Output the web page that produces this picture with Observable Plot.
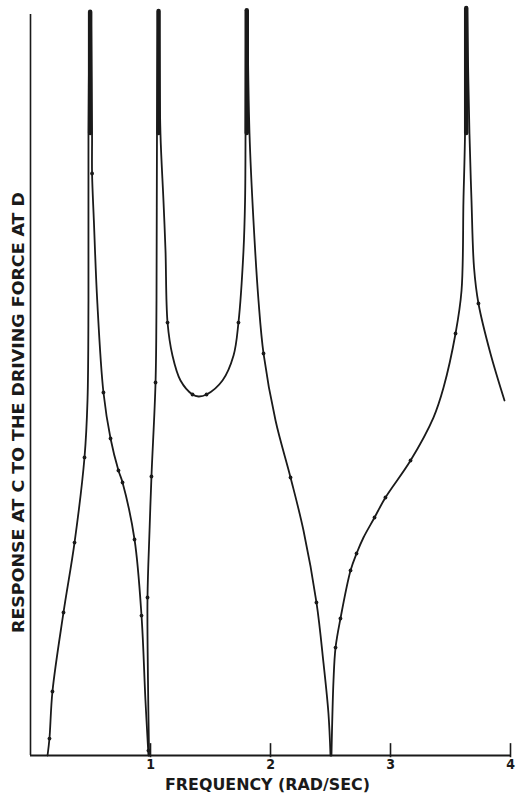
<!DOCTYPE html>
<html><head><meta charset="utf-8">
<script src="https://cdn.jsdelivr.net/npm/d3@7"></script>
<script src="https://cdn.jsdelivr.net/npm/@observablehq/plot@0.6"></script>
<style>body{margin:0;background:#fff}</style>
</head><body><div id="chart"></div>
<script>
// Tick values and labels
const xTicks = [1, 2, 3, 4];
const xLabel = "FREQUENCY (RAD/SEC)";
const yLabel = "RESPONSE AT C TO THE DRIVING FORCE AT D";

// Curve branches [frequency, response] (response in arbitrary units, 0..100 = axis height)
const branch1 = [[0.142,0],[0.158,2.29],[0.183,8.64],[0.275,19.3],[0.367,28.74],[0.45,40.22],[0.475,47.91],[0.483,61.4],[0.483,83.94],[0.492,100.3]];
const branch2 = [[0.504,100.3],[0.513,83.94],[0.513,78.54],[0.528,72.2],[0.556,61.4],[0.608,48.99],[0.667,42.78],[0.733,38.46],[0.767,36.84],[0.867,29.15],[0.925,18.89],[0.958,7.42],[0.983,0]];
const branch3 = [[0.988,0],[0.979,10.12],[0.975,21.32],[0.992,30.36],[1.008,37.65],[1.042,50.34],[1.05,61.4],[1.054,83.94],[1.063,100.4]];
const branch4 = [[1.071,100.4],[1.083,83.94],[1.108,74.9],[1.125,68.15],[1.142,58.43],[1.183,53.98],[1.25,50.61],[1.35,48.72],[1.4,48.45],[1.467,48.72],[1.6,50.61],[1.692,53.98],[1.733,58.43],[1.775,68.15],[1.788,74.9],[1.792,83.94],[1.796,100.5]];
const branch5 = [[1.808,100.5],[1.825,83.94],[1.858,72.2],[1.9,61.4],[1.942,54.25],[2.042,45.21],[2.167,37.52],[2.275,30.36],[2.383,20.65],[2.442,12.42],[2.483,5.67],[2.5,0]];
const branch6 = [[2.508,0],[2.525,10.12],[2.542,14.57],[2.583,18.49],[2.667,24.97],[2.717,27.26],[2.775,29.42],[2.867,32.12],[2.958,34.82],[3.167,39.81],[3.358,45.61],[3.442,49.66],[3.542,56.95],[3.592,62.75],[3.608,74.9],[3.621,83.94],[3.625,100.8]];
const branch7 = [[3.638,100.8],[3.658,83.94],[3.675,74.9],[3.696,65.86],[3.733,61.0],[3.833,54.25],[3.95,47.91]];

// Resonance peaks (frequency, top of the heavy spike)
const peaks = [[0.497,100.3],[1.067,100.4],[1.802,100.5],[3.631,100.8]];
const spikeBase = 83.94;

// Plotted computation points
const dots = [[0.158,2.29],[0.183,8.64],[0.275,19.3],[0.367,28.74],[0.45,40.22],
  [0.513,78.54],[0.608,48.99],[0.667,42.78],[0.733,38.46],[0.767,36.84],[0.867,29.15],[0.925,18.89],[0.983,0.67],
  [0.975,21.32],[1.008,37.65],[1.042,50.34],
  [1.142,58.43],[1.35,48.72],[1.467,48.72],[1.733,58.43],
  [1.942,54.25],[2.167,37.52],[2.383,20.65],
  [2.542,14.57],[2.583,18.49],[2.667,24.97],[2.717,27.26],[2.867,32.12],[2.958,34.82],[3.167,39.81],[3.542,56.95],
  [3.733,61.0]];

const ink = "#1a1a1a";
const branches = [branch1, branch2, branch3, branch4, branch5, branch6, branch7];
const lines = branches.flatMap((b, i) => b.map(([x, y]) => ({x, y, id: i})));
const font = "'Liberation Sans Narrow','DejaVu Sans Condensed','Liberation Sans',sans-serif";

const chart = Plot.plot({
  width: 521, height: 800,
  marginLeft: 30, marginRight: 11, marginTop: 14, marginBottom: 45,
  style: {fontFamily: font, fontWeight: "bold", fontSize: "14px", color: ink, background: "#fff"},
  x: {domain: [0, 4], ticks: xTicks, tickSize: 0, tickPadding: 4, tickFormat: d => String(d), label: null},
  y: {domain: [0, 100], axis: null},
  marks: [
    Plot.ruleX([0], {y1: 0, y2: 100, stroke: ink, strokeWidth: 1.6}),
    Plot.ruleY([0], {x1: 0, x2: 4, stroke: ink, strokeWidth: 2}),
    Plot.ruleX(xTicks, {y1: -0.3, y2: 1.6, stroke: ink, strokeWidth: 1.6}),
    Plot.line(lines, {x: "x", y: "y", z: "id", curve: "catmull-rom", stroke: ink, strokeWidth: 1.8}),
    Plot.ruleX(peaks, {x: d => d[0], y1: spikeBase, y2: d => d[1], stroke: ink, strokeWidth: 4.5, strokeLinecap: "round"}),
    Plot.dot(dots, {x: d => d[0], y: d => d[1], r: 1.9, fill: ink, stroke: "none"}),
    Plot.text([xLabel], {text: d => d, frameAnchor: "bottom", textAnchor: "middle", lineAnchor: "middle", dx: -3, dy: 29, fontSize: 16, fontWeight: "bold", fill: ink}),
    Plot.text([yLabel], {text: d => d, frameAnchor: "left", textAnchor: "middle", lineAnchor: "middle", rotate: -90, dx: -11.5, dy: 27.5, fontSize: 15, fontWeight: "bold", fill: ink})
  ]
});
document.getElementById("chart").appendChild(chart);

// stretch label texts to the reference widths
d3.select(chart).selectAll("text").each(function() {
  const t = this.textContent;
  if (t === xLabel) d3.select(this).attr("textLength", 205).attr("lengthAdjust", "spacingAndGlyphs");
  if (t === yLabel) d3.select(this).attr("textLength", 441).attr("lengthAdjust", "spacingAndGlyphs");
});
</script>
</body></html>
